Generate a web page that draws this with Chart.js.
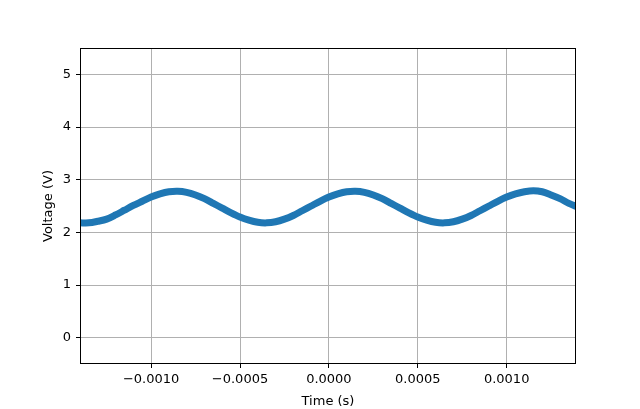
<!DOCTYPE html>
<html>
<head>
<meta charset="utf-8">
<script src="https://cdn.jsdelivr.net/npm/chart.js@4/dist/chart.umd.min.js"></script>
<style>
  html, body { margin: 0; padding: 0; background: #fff; }
  canvas { display: block; }
</style>
</head>
<body>
<canvas id="scope-chart" width="640" height="409"></canvas>
<script>
// samples, every 0.05 ms
const timeStart = -0.0014;
const timeStep = 0.00005;
const voltage = [
  2.18, 2.18, 2.21, 2.25, 2.33, 2.42, 2.51, 2.59, 2.67, 2.73,
  2.77, 2.78, 2.76, 2.71, 2.64, 2.55, 2.46, 2.37, 2.29, 2.23,
  2.19, 2.18, 2.20, 2.25, 2.32, 2.41, 2.50, 2.59, 2.67, 2.73,
  2.77, 2.78, 2.76, 2.71, 2.64, 2.55, 2.46, 2.37, 2.29, 2.23,
  2.19, 2.18, 2.20, 2.25, 2.32, 2.41, 2.50, 2.59, 2.67, 2.73,
  2.77, 2.79, 2.77, 2.71, 2.64, 2.55, 2.48
];
const xTicks = [-0.001, -0.0005, 0, 0.0005, 0.001];
const yTicks = [0, 1, 2, 3, 4, 5];

const points = voltage.map((v, i) => ({ x: timeStart + i * timeStep, y: v }));

const frame = {
    id: "frame",
    afterDraw(chart) {
        const { ctx, chartArea: a } = chart;
        ctx.save();
        ctx.strokeStyle = "#000";
        ctx.lineWidth = 1;
        ctx.strokeRect(Math.round(a.left) + 0.5, Math.round(a.top) + 0.5,
            Math.round(a.right - a.left) - 1, Math.round(a.bottom - a.top) - 1);
        ctx.restore();
    },
};

const fmt = (v) => (v < 0 ? "\u2212" : "") + Math.abs(v).toFixed(4);
const font = { family: "'DejaVu Sans'", size: 13 };

new Chart(document.getElementById("scope-chart"), {
    type: "line",
    data: {
        datasets: [
            {
                data: points,
                borderColor: "#1f77b4",
                borderWidth: 7,
                pointRadius: 0,
                tension: 0.3,
                borderJoinStyle: "round",
            },
        ],
    },
    options: {
        responsive: false,
        animation: false,
        events: [],
        layout: { padding: { top: 48, right: 64, left: 0, bottom: 0 } },
        plugins: { legend: { display: false }, tooltip: { enabled: false } },
        scales: {
            x: {
                type: "linear",
                min: -0.0014,
                max: 0.00139,
                afterFit: (s) => { s.height = 45; },
                afterBuildTicks: (s) => { s.ticks = xTicks.map((v) => ({ value: v })); },
                grid: { color: "#b0b0b0", lineWidth: 1, tickColor: "#000", tickLength: 4 },
                border: { display: false },
                ticks: { color: "#000", font, padding: 4, maxRotation: 0, callback: fmt },
                title: { display: true, text: "Time (s)", color: "#000", font, padding: { top: 0, bottom: 0 } },
            },
            y: {
                min: -0.5,
                max: 5.5,
                afterFit: (s) => { s.width = 80; },
                afterBuildTicks: (s) => { s.ticks = yTicks.map((v) => ({ value: v })); },
                grid: { color: "#b0b0b0", lineWidth: 1, tickColor: "#000", tickLength: 4 },
                border: { display: false },
                ticks: { color: "#000", font, padding: 5, callback: (v) => String(v) },
                title: { display: true, text: "Voltage (V)", color: "#000", font, padding: { top: 41, bottom: 0 } },
            },
        },
    },
    plugins: [frame],
});
</script>
</body>
</html>
